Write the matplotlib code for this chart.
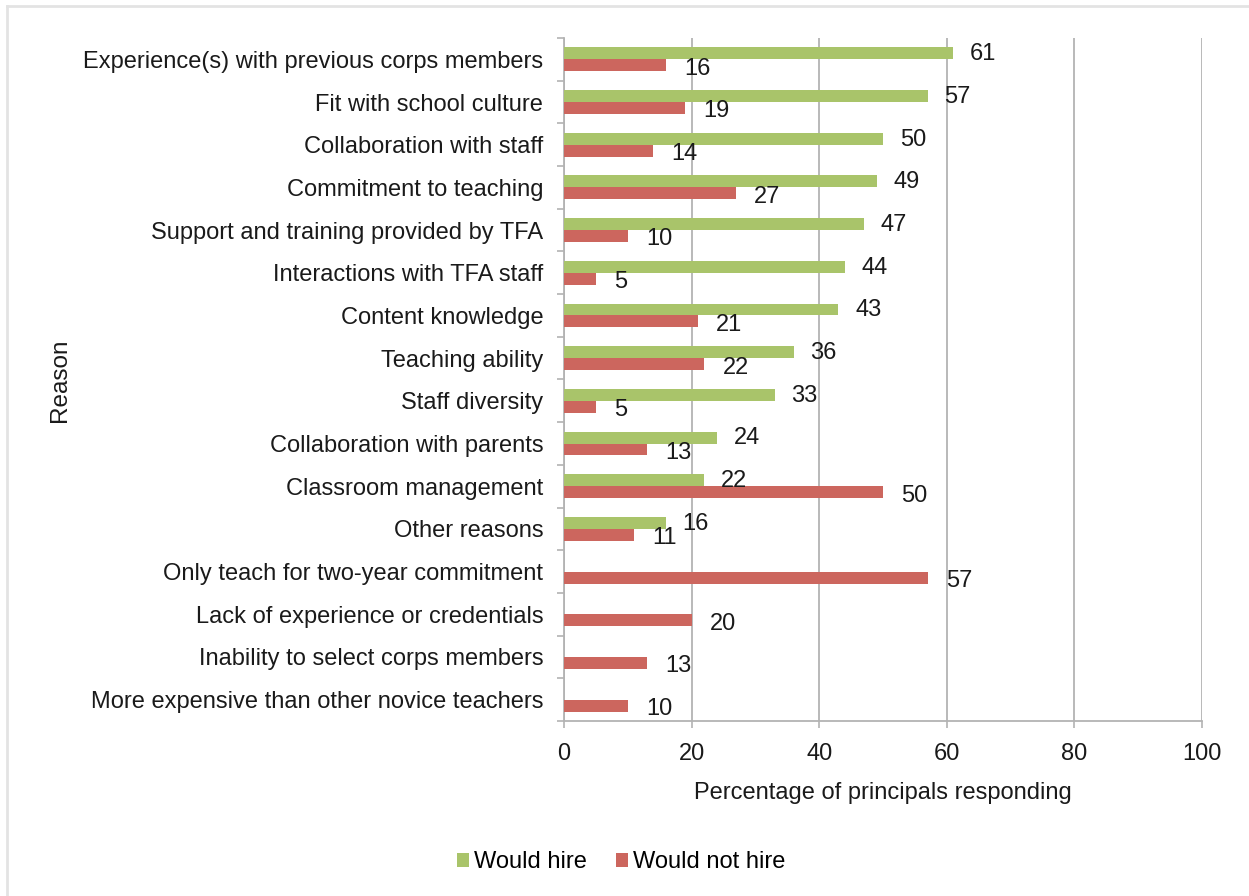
import matplotlib
matplotlib.use("Agg")
import matplotlib.pyplot as plt
from matplotlib.lines import Line2D
from matplotlib.patches import Patch
import numpy as np

plt.rcParams['font.family'] = ['Liberation Sans', 'DejaVu Sans']

categories = [
    "Experience(s) with previous corps members",
    "Fit with school culture",
    "Collaboration with staff",
    "Commitment to teaching",
    "Support and training provided by TFA",
    "Interactions with TFA staff",
    "Content knowledge",
    "Teaching ability",
    "Staff diversity",
    "Collaboration with parents",
    "Classroom management",
    "Other reasons",
    "Only teach for two-year commitment",
    "Lack of experience or credentials",
    "Inability to select corps members",
    "More expensive than other novice teachers",
]
would_hire = [61, 57, 50, 49, 47, 44, 43, 36, 33, 24, 22, 16, None, None, None, None]
would_not_hire = [16, 19, 14, 27, 10, 5, 21, 22, 5, 13, 50, 11, 57, 20, 13, 10]
x_ticks = [0, 20, 40, 60, 80, 100]

GREEN = "#A9C46A"
RED = "#CC665E"
GRID = "#B3B3B3"
TXT = "#1A1A1A"
FS = 17

W, H = 1249, 896
fig = plt.figure(figsize=(W / 100, H / 100), dpi=100)
ax = fig.add_axes([564 / W, 1 - 721 / H, (1202 - 564) / W, (721 - 38) / H])

y = np.arange(len(categories))
bh = 0.28
gvals = [v if v is not None else 0 for v in would_hire]
ax.barh(y - bh / 2, gvals, height=bh, color=GREEN, zorder=3)
ax.barh(y + bh / 2, would_not_hire, height=bh, color=RED, zorder=3)

for i, v in enumerate(would_hire):
    if v is not None:
        ax.annotate(f"{v}", (v, i - bh / 2 + 0.02), xytext=(12, 0), textcoords="offset points",
                    va="center", ha="left", fontsize=FS, color=TXT, zorder=4)
for i, v in enumerate(would_not_hire):
    ax.annotate(f"{v}", (v, i + bh / 2 + 0.08), xytext=(13, 0), textcoords="offset points",
                va="center", ha="left", fontsize=FS, color=TXT, zorder=4)

ax.set_xlim(0, 100)
ax.set_ylim(len(categories) - 0.5, -0.5)
ax.set_xticks(x_ticks)
ax.set_xticklabels([str(t) for t in x_ticks], fontsize=FS, color=TXT)
ax.set_yticks(y)
ax.set_yticklabels(categories, fontsize=FS, color=TXT)
ax.set_yticks(np.arange(-0.5, len(categories), 1), minor=True)
ax.tick_params(axis='y', which='major', length=0, pad=15)
ax.tick_params(axis='y', which='minor', length=5, width=1.2, color=GRID, direction='out')
ax.tick_params(axis='x', which='major', length=5, width=1.2, color=GRID, pad=11)

ax.grid(axis='x', color=GRID, linewidth=1.3, zorder=0)
for s in ['top', 'right']:
    ax.spines[s].set_visible(False)
for s in ['left', 'bottom']:
    ax.spines[s].set_color(GRID)
    ax.spines[s].set_linewidth(1.3)

ax.set_xlabel("Percentage of principals responding", fontsize=FS, color=TXT, labelpad=12)
fig.text(60 / W, 1 - 380 / H, "Reason", rotation=90, fontsize=17.5, color=TXT,
         ha="center", va="center")

handles = [Patch(facecolor=GREEN, edgecolor="none", label="Would hire"),
           Patch(facecolor=RED, edgecolor="none", label="Would not hire")]
fig.legend(handles=handles, loc="center", bbox_to_anchor=(621 / W, 1 - 862 / H), ncol=2,
           frameon=False, fontsize=FS, handlelength=0.52, handleheight=0.52,
           handletextpad=0.2, columnspacing=1.25)

# chart area border (light gray, only top and left visible)
fig.add_artist(Line2D([7 / W, 7 / W], [0, 1 - 6 / H], color="#E3E3E3", linewidth=2,
                      transform=fig.transFigure))
fig.add_artist(Line2D([7 / W, 1], [1 - 6 / H, 1 - 6 / H], color="#E3E3E3", linewidth=2,
                      transform=fig.transFigure))

fig.savefig("out.png", dpi=100)
